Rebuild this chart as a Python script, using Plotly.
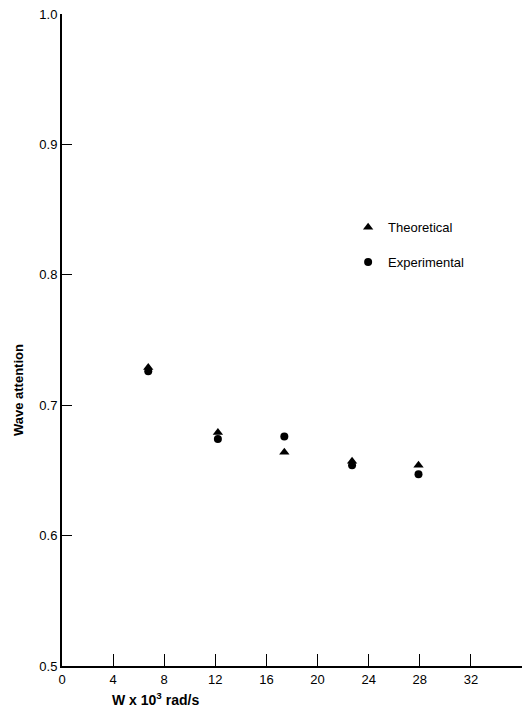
import plotly.graph_objects as go

# Data
omega = [6.75, 12.2, 17.4, 22.7, 27.9]           # W x 10^3 rad/s
theoretical = [0.729, 0.679, 0.664, 0.657, 0.654]
experimental = [0.726, 0.674, 0.676, 0.654, 0.647]

x_ticks = [0, 4, 8, 12, 16, 20, 24, 28, 32]
y_ticks = [0.5, 0.6, 0.7, 0.8, 0.9, 1.0]
y_labels = ["0.5", "0.6", "0.7", "0.8", "0.9", "1.0"]

FONT = "Liberation Sans, Arial, sans-serif"

fig = go.Figure()
fig.add_trace(go.Scatter(
    x=omega, y=theoretical, mode="markers", name="Theoretical",
    legendgroup="t",
    marker=dict(symbol="triangle-up", size=9, color="black"),
))
fig.add_trace(go.Scatter(
    x=omega, y=experimental, mode="markers", name="Experimental",
    legendgroup="e",
    marker=dict(symbol="circle", size=8, color="black"),
))

fig.update_layout(
    width=522, height=715,
    margin=dict(l=62, r=0, t=14, b=49),
    plot_bgcolor="white", paper_bgcolor="white",
    font=dict(family=FONT, size=13, color="black"),
    showlegend=True,
    legend=dict(
        x=0.622, y=0.696, xanchor="left", yanchor="top",
        bgcolor="rgba(0,0,0,0)", font=dict(size=13, color="black"),
        traceorder="grouped", tracegroupgap=15,
        itemwidth=30,
    ),
    xaxis=dict(
        range=[0, 36], tickvals=x_ticks, ticktext=[str(v) for v in x_ticks],
        showgrid=False, zeroline=False, showline=True, linecolor="black",
        linewidth=2, ticks="inside", ticklen=12, tickcolor="black",
        tickwidth=1, tickfont=dict(size=13),
    ),
    yaxis=dict(
        range=[0.5, 1.0], tickvals=y_ticks, ticktext=y_labels,
        showgrid=False, zeroline=False, showline=True, linecolor="black",
        linewidth=2, ticks="inside", ticklen=10, tickcolor="black",
        tickwidth=1, tickfont=dict(size=13),
    ),
    annotations=[
        dict(text="<b>W x 10<sup>3</sup> rad/s</b>", xref="paper", yref="paper",
             x=0.204, y=-0.05, xanchor="center", yanchor="middle",
             showarrow=False, font=dict(size=14, color="black")),
        dict(text="<b>Wave attention</b>", xref="paper", yref="paper",
             x=-0.096, y=0.423, xanchor="center", yanchor="middle",
             textangle=-90, showarrow=False, font=dict(size=13, color="black")),
    ],
)

fig.write_html(
    "out.html",
    config={"displayModeBar": False},
    post_script="document.body.style.margin='0';document.body.style.overflow='hidden';",
)
